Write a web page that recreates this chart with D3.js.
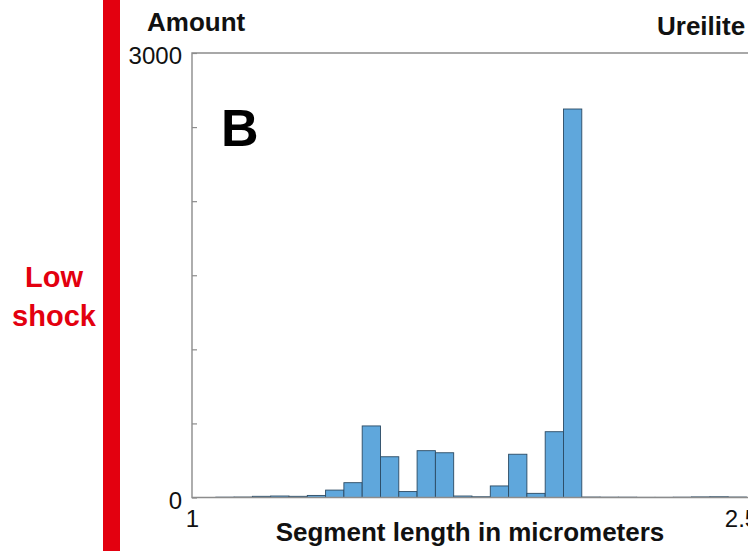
<!doctype html>
<html lang="en">
<head>
  <meta charset="utf-8">
  <title>Ureilite segment lengths</title>
  <script src="https://d3js.org/d3.v7.min.js"></script>
  <style>
    body { margin: 0; background: #fff; }
    text { font-family: "Liberation Sans", Arial, Helvetica, sans-serif; }
  </style>
</head>
<body>
<div id="chart"></div>
<script>
  // histogram bins (lower edge, micrometers) and counts
  var bin_lo = [1.065, 1.115, 1.165, 1.215, 1.265, 1.315, 1.365, 1.415, 1.465, 1.515,
                1.565, 1.615, 1.665, 1.715, 1.765, 1.815, 1.865, 1.915, 1.965, 2.015,
                2.065, 2.115, 2.165, 2.215, 2.265, 2.315, 2.365, 2.415, 2.465];
  var counts = [2, 3, 8, 10, 8, 14, 50, 100, 483, 275,
                40, 316, 302, 10, 5, 78, 292, 28, 444, 2622,
                3, 2, 2, 1, 1, 2, 4, 5, 3];
  var bin_width = 0.05;
  var x_ticks = [1, 2.5];
  var y_ticks = [0, 500, 1000, 1500, 2000, 2500, 3000];
  var y_labels = [0, 3000];

  var width = 748, height = 551;
  var plot_left = 192, plot_right = 741, plot_top = 53, plot_bottom = 497.5;

  var x = d3.scaleLinear().domain([1, 2.5]).range([plot_left, plot_right]);
  var y = d3.scaleLinear().domain([0, 3000]).range([plot_bottom, plot_top]);

  var svg = d3.select('#chart').append('svg')
    .attr('width', width)
    .attr('height', height)
    .style('background', '#fff');

  // red side bar + label
  svg.append('rect')
    .attr('x', 103).attr('y', 0)
    .attr('width', 17).attr('height', height)
    .style('fill', '#e3000f');
  svg.append('text')
    .attr('x', 54).attr('y', 287)
    .attr('text-anchor', 'middle')
    .style('font-size', '29px').style('font-weight', 'bold').style('fill', '#e3000f')
    .text('Low');
  svg.append('text')
    .attr('x', 54).attr('y', 326)
    .attr('text-anchor', 'middle')
    .style('font-size', '29px').style('font-weight', 'bold').style('fill', '#e3000f')
    .text('shock');

  // bars
  var data = bin_lo.map((d, i) => ({lo: d, n: counts[i]}));
  svg.append('g').selectAll('rect')
    .data(data)
    .enter().append('rect')
      .attr('x', d => x(d.lo))
      .attr('width', d => x(d.lo + bin_width) - x(d.lo))
      .attr('y', d => y(d.n))
      .attr('height', d => plot_bottom - y(d.n))
      .style('fill', '#5fa7dc')
      .style('stroke', '#2b4a63')
      .style('stroke-width', 0.9);

  // plot box
  svg.append('path')
    .attr('d', 'M' + width + ',' + plot_top + 'H' + plot_left + 'V' + plot_bottom + 'H' + width)
    .style('fill', 'none')
    .style('stroke', '#8c8c8c')
    .style('stroke-width', 1.4);

  // y axis
  var y_axis = svg.append('g')
    .attr('transform', 'translate(' + plot_left + ',0)')
    .call(d3.axisLeft(y)
      .tickValues(y_ticks)
      .tickSize(-5)
      .tickPadding(10)
      .tickFormat(d => y_labels.indexOf(d) >= 0 ? d : ''));
  y_axis.select('.domain').remove();
  y_axis.selectAll('line').style('stroke', '#8c8c8c').style('stroke-width', 1.2);
  y_axis.selectAll('text')
    .style('font-size', '24px').style('fill', '#111')
    .attr('font-family', null)
    .attr('dy', '0.45em');

  // x axis
  var x_axis = svg.append('g')
    .attr('transform', 'translate(0,' + plot_bottom + ')')
    .call(d3.axisBottom(x)
      .tickValues(x_ticks)
      .tickSize(0)
      .tickPadding(12)
      .tickFormat(d3.format('')));
  x_axis.select('.domain').remove();
  x_axis.selectAll('text')
    .style('font-size', '24px').style('fill', '#111')
    .attr('font-family', null);

  // titles
  svg.append('text')
    .attr('x', 147).attr('y', 31)
    .style('font-size', '26px').style('font-weight', 'bold').style('fill', '#111')
    .text('Amount');
  svg.append('text')
    .attr('x', 657).attr('y', 35)
    .style('font-size', '26px').style('font-weight', 'bold').style('fill', '#111')
    .text('Ureilite');
  svg.append('text')
    .attr('x', 470).attr('y', 541)
    .attr('text-anchor', 'middle')
    .style('font-size', '26px').style('font-weight', 'bold').style('fill', '#111')
    .text('Segment length in micrometers');
  svg.append('text')
    .attr('x', 221).attr('y', 146)
    .style('font-size', '52px').style('font-weight', 'bold').style('fill', '#000')
    .text('B');
</script>
</body>
</html>
